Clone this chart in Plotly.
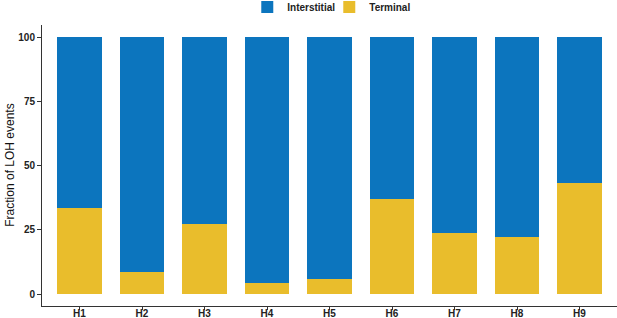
import plotly.graph_objects as go

categories = ["H1", "H2", "H3", "H4", "H5", "H6", "H7", "H8", "H9"]
terminal = [33.4, 8.6, 27.3, 4.4, 5.8, 37.0, 23.9, 22.1, 43.2]
interstitial = [round(100 - t, 1) for t in terminal]
y_ticks = [0, 25, 50, 75, 100]

blue = "#0C75BE"
yellow = "#E9BD2C"
FONT = "Liberation Sans, Arial, sans-serif"

fig = go.Figure()
fig.add_trace(go.Bar(x=categories, y=terminal, name="<b>Terminal</b>",
                     marker=dict(color=yellow, line=dict(width=0))))
fig.add_trace(go.Bar(x=categories, y=interstitial, name="<b>Interstitial</b>",
                     marker=dict(color=blue, line=dict(width=0))))

fig.update_layout(
    width=617, height=318,
    barmode="stack", bargap=0.284,
    paper_bgcolor="white", plot_bgcolor="white",
    margin=dict(l=42, r=0, t=25, b=12, autoexpand=False),
    font=dict(family=FONT, color="#222"),
    showlegend=True,
    legend=dict(orientation="h", traceorder="reversed",
                x=0.357, xanchor="left", y=1.064, yanchor="middle",
                entrywidth=37, entrywidthmode="pixels",
                font=dict(size=10, color="#222", family=FONT)),
    xaxis=dict(range=[-0.6, 8.6], showline=True, linecolor="#333", linewidth=1,
               ticks="outside", ticklen=3, tickcolor="#333", automargin=False,
               ticklabelstandoff=-5,
               tickfont=dict(size=10, color="#222"), showgrid=False),
    yaxis=dict(range=[-4.6, 104.8], tickvals=y_ticks, ticktext=[f"<b>{v}</b>" for v in y_ticks],
               showline=True, linecolor="#333", linewidth=1, automargin=False,
               ticks="outside", ticklen=4, tickcolor="#333",
               tickfont=dict(size=10, color="#222"), showgrid=False, zeroline=False),
    annotations=[dict(text="Fraction of LOH events", textangle=-90,
                      xref="paper", yref="paper", x=-0.057, y=0.5,
                      xanchor="center", yanchor="middle", showarrow=False,
                      font=dict(size=12, color="#111", family=FONT))],
)
fig.update_xaxes(tickvals=categories, ticktext=[f"<b>{c}</b>" for c in categories])
fig.write_html("out.html", config={"displayModeBar": False},
               post_script="document.body.style.margin='0';document.body.style.padding='0';")
